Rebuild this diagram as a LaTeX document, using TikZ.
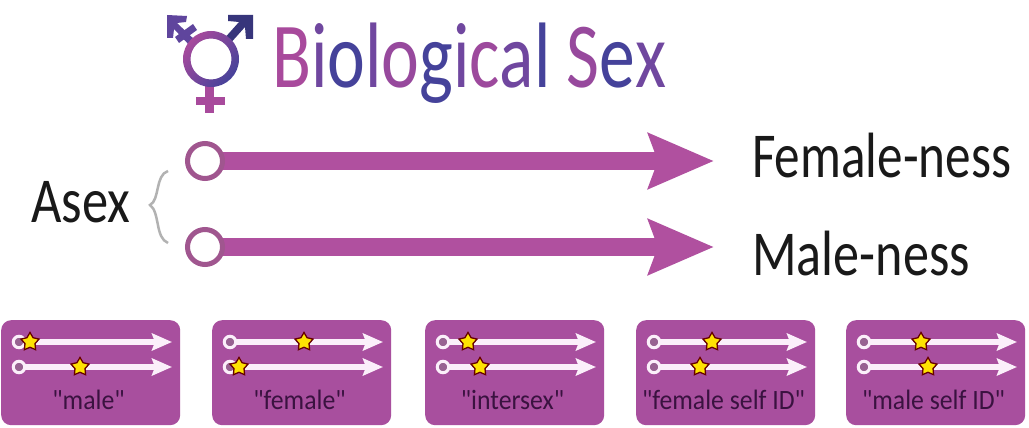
\documentclass[tikz,border=0pt]{standalone}
\usepackage{graphicx}
\usepackage{fontspec}
\setmainfont{Carlito}[Ligatures=TeXOff]
\usetikzlibrary{arrows.meta,shapes.geometric}
\definecolor{mag}{HTML}{B0509F}
\definecolor{magdark}{HTML}{A0568F}
\definecolor{panel}{HTML}{A84F9E}
\definecolor{lab}{HTML}{3A1240}
\definecolor{tpink}{HTML}{A84A9C}
\definecolor{tpur}{HTML}{70479F}
\definecolor{tblue}{HTML}{45429A}
\definecolor{pale}{HTML}{FBEFFA}
\tikzset{
  bigarrow/.style={line width=18pt,color=mag,-{Stealth[length=65pt,width=54pt,inset=9pt]}},
  bigring/.style={circle,draw=magdark,line width=5pt,fill=white,minimum size=35pt,inner sep=0pt},
  smallarrow/.style={line width=5.5pt,color=pale,-{Stealth[length=20pt,width=17pt,inset=3pt]}},
  smallring/.style={circle,draw=pale,line width=3pt,fill=panel!60!gray,minimum size=11.5pt,inner sep=0pt},
  panelbox/.style={draw=none,fill=panel,rounded corners=10pt},
  staricon/.style={star,star points=5,star point ratio=1.8,draw=black!60!red,line width=1.3pt,fill=yellow!85!orange,minimum size=19pt,inner sep=0pt},
  paneltext/.style={text=lab,font=\fontsize{28}{30}\selectfont,inner sep=0pt,anchor=base},
  bigtext/.style={text=black!90,font=\fontsize{64}{68}\selectfont,inner sep=0pt,anchor=base west},
  graybrace/.style={draw=black!30,line width=2.5pt},
}
% #1 name, #2 left x, #3 star 1 x, #4 star 2 x, #5 label
\newcommand{\sexpanel}[5]{%
  \node[panelbox,minimum width=179pt,minimum height=105pt,anchor=north west] (#1box) at (#2,320) {};
  \path (#2,342) ++(18,0) coordinate (#1a) ++(153,0) coordinate (#1at);
  \path (#2,367) ++(18,0) coordinate (#1b) ++(153,0) coordinate (#1bt);
  \draw[smallarrow] (#1a) -- (#1at);
  \draw[smallarrow] (#1b) -- (#1bt);
  \node[smallring] (#1ra) at (#1a) {};
  \node[smallring] (#1rb) at (#1b) {};
  \node[staricon] (#1sa) at (#3,342) {};
  \node[staricon] (#1sb) at (#4,367) {};
  \node[paneltext] (#1lab) at ([shift={(87.5,89)}]#1box.north west) {\scalebox{.92}[1]{#5}};
}
\begin{document}
\begin{tikzpicture}[x=1pt,y=-1pt]
\useasboundingbox (0,0) rectangle (1029,428);
\fill[white] (0,0) rectangle (1029,428);
% gender symbol
\fill[tpur!60!tblue] (167,15) -- (187,16) -- (186,22) -- (177,23) -- (197,42) -- (191,47) -- (174,29) -- (173,38) -- (167,38) -- cycle;
\fill[tpur!60!tblue] (175,37) -- (193,24) -- (197,30) -- (179,43) -- cycle;
\fill[tblue!80!black] (228,15) -- (253,15) -- (253,39) -- (246,39) -- (245,27) -- (228,46) -- (222,41) -- (239,22) -- (228,21) -- cycle;
\fill[tpink] (205,85) rectangle (214,113);
\fill[tpink] (196,97) rectangle (225,105);
\shade[shading=axis,left color=tpink,right color=tblue,shading angle=50,even odd rule]
  (211,59) circle[radius=28] (211,59) circle[radius=20.5];
% title
\node[inner sep=0pt,anchor=base west,font=\fontsize{93}{98}\selectfont] (title) at (272,88)
 {\scalebox{.77}[1]{\textcolor{tpink}{B}\textcolor{tpur}{i}\textcolor{tblue}{o}\textcolor{tpur}{l}\textcolor{tpink!70!tpur}{o}\textcolor{tblue}{g}\textcolor{tpur}{i}\textcolor{tpink!80!tpur}{c}\textcolor{tpur}{a}\textcolor{tblue}{l} \textcolor{tpink!70!tpur}{S}\textcolor{tblue}{e}\textcolor{tpur}{x}}};
% main arrows
\coordinate (fs) at (205,161);
\coordinate (ft) at (714,161);
\coordinate (ms) at (205,247);
\coordinate (mt) at (714,247);
\draw[bigarrow] (fs) -- (ft);
\draw[bigarrow] (ms) -- (mt);
\node[bigring] (fr) at (fs) {};
\node[bigring] (mr) at (ms) {};
\node[bigtext] (fem) at (752,177) {\scalebox{.80}[1]{Female-ness}};
\node[bigtext] (mal) at (752,275) {\scalebox{.815}[1]{Male-ness}};
\node[bigtext] (asex) at (31,222) {\scalebox{.82}[1]{Asex}};
\draw[graybrace] (168,171) .. controls (155,175) and (160,200) .. (150,205) .. controls (160,212) and (155,238) .. (168,243);
% panels
\sexpanel{p1}{1}{30}{80}{"male"}
\sexpanel{p2}{212}{304}{239}{"female"}
\sexpanel{p3}{425}{468}{480}{"intersex"}
\sexpanel{p4}{636}{712}{700}{"female self ID"}
\sexpanel{p5}{846}{921}{928}{"male self ID"}
\end{tikzpicture}
\end{document}
